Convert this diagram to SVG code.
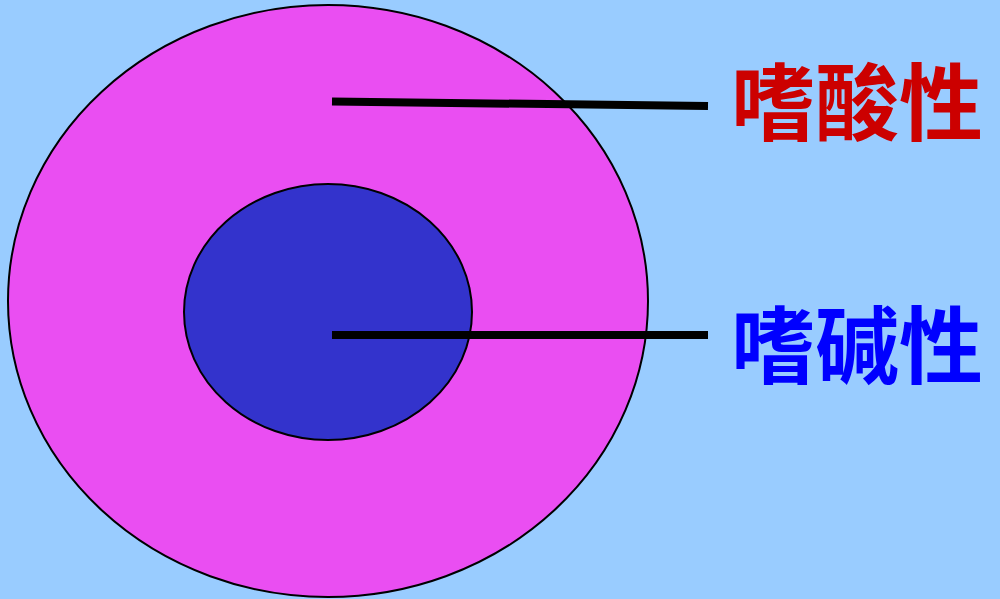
<svg xmlns="http://www.w3.org/2000/svg" width="1000" height="599" viewBox="0 0 1000 599">
<style>
.cell{stroke:#000;stroke-width:2}
.lead{stroke:#000;stroke-width:8;fill:none}
.lbl{font-family:"Noto Sans CJK SC","Noto Sans",sans-serif;font-weight:bold;font-size:84px}
</style>
<rect width="1000" height="599" fill="#99CCFF"/>
<g id="outer"><ellipse class="cell" cx="328" cy="301" rx="320" ry="296" fill="#EA4EF2"/></g>
<g id="inner"><ellipse class="cell" cx="328" cy="312" rx="144" ry="128" fill="#3333CC"/></g>
<g id="connectors">
<line class="lead" x1="332" y1="101.5" x2="708" y2="106"/>
<line class="lead" x1="332" y1="335" x2="708" y2="335"/>
</g>
<g id="acid"><text class="lbl" x="731" y="134" fill="#CC0000">嗜酸性</text></g>
<g id="base"><text class="lbl" x="731" y="377" fill="#0000FF">嗜碱性</text></g>
</svg>
